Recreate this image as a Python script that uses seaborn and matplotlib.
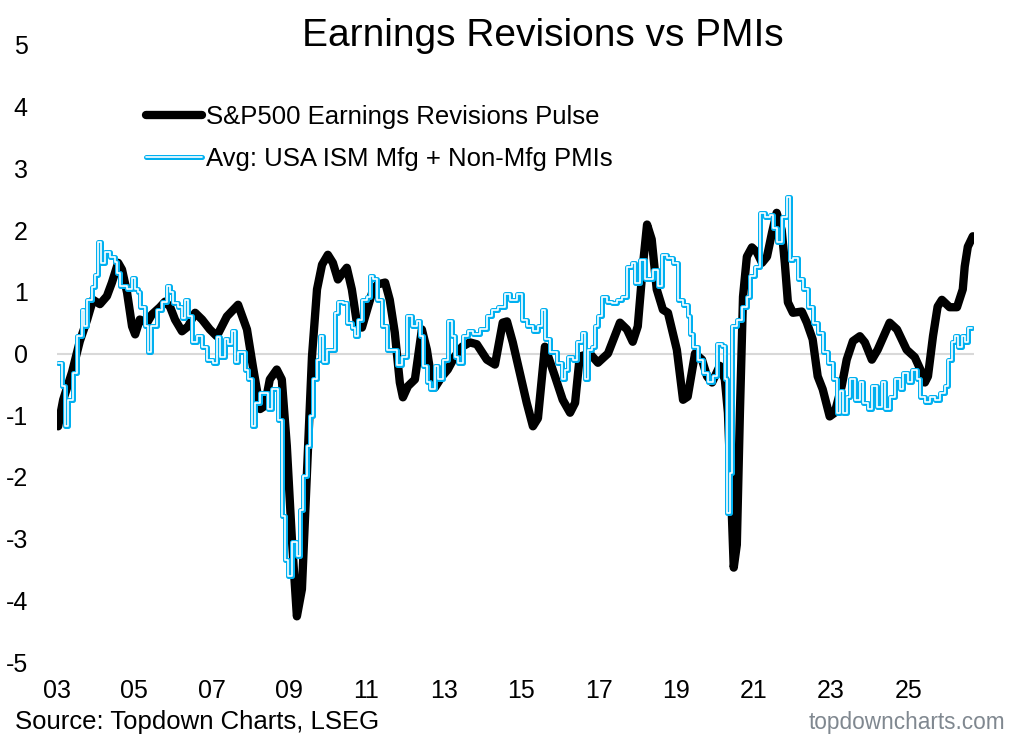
import matplotlib
matplotlib.use("Agg")
import matplotlib.pyplot as plt
from matplotlib.lines import Line2D
import seaborn as sns
import pandas as pd

# ---- data (decimal years) ----
eps_t = [2003.03, 2003.16, 2003.39, 2003.59, 2003.78, 2003.93, 2004.11, 2004.29, 2004.42, 2004.58,
         2004.68, 2004.81, 2004.94, 2005.02, 2005.14, 2005.33, 2005.45, 2005.66, 2005.79, 2005.92,
         2006.05, 2006.23, 2006.39, 2006.57, 2006.75, 2006.95, 2007.13, 2007.39, 2007.68, 2007.91,
         2008.06, 2008.25, 2008.37, 2008.50, 2008.68, 2008.81, 2008.94, 2009.07, 2009.20, 2009.33,
         2009.46, 2009.59, 2009.72, 2009.85, 2010.00, 2010.13, 2010.26, 2010.39, 2010.49, 2010.62,
         2010.75, 2010.88, 2011.04, 2011.17, 2011.29, 2011.48, 2011.60, 2011.73, 2011.86, 2011.94,
         2012.07, 2012.25, 2012.43, 2012.56, 2012.69, 2012.77, 2012.95, 2013.10, 2013.28, 2013.47,
         2013.67, 2013.85, 2014.11, 2014.32, 2014.52, 2014.63, 2014.78, 2014.96, 2015.14, 2015.30,
         2015.43, 2015.61, 2015.87, 2016.07, 2016.26, 2016.39, 2016.51, 2016.77, 2016.98, 2017.24,
         2017.55, 2017.73, 2017.88, 2018.01, 2018.14, 2018.25, 2018.37, 2018.50, 2018.66, 2018.79,
         2019.02, 2019.18, 2019.30, 2019.49, 2019.67, 2019.80, 2019.93, 2020.13, 2020.26, 2020.34,
         2020.44, 2020.49, 2020.57, 2020.65, 2020.73, 2020.83, 2020.96, 2021.09, 2021.22, 2021.35,
         2021.48, 2021.60, 2021.73, 2021.81, 2021.89, 2022.02, 2022.25, 2022.38, 2022.53, 2022.66,
         2022.79, 2022.97, 2023.10, 2023.28, 2023.41, 2023.57, 2023.75, 2023.88, 2024.06, 2024.21,
         2024.52, 2024.71, 2024.96, 2025.17, 2025.35, 2025.43, 2025.51, 2025.64, 2025.76, 2025.87,
         2026.07, 2026.26, 2026.41, 2026.46, 2026.54, 2026.67]
eps_v = [-1.18, -0.75, -0.30, 0.20, 0.55, 0.87, 0.80, 0.93, 1.15, 1.47,
         1.36, 0.99, 0.44, 0.31, 0.55, 0.50, 0.63, 0.75, 0.84, 0.76,
         0.55, 0.36, 0.44, 0.66, 0.55, 0.39, 0.28, 0.60, 0.79, 0.39,
         -0.20, -0.90, -0.85, -0.42, -0.26, -0.42, -1.50, -3.00, -4.26, -3.82,
         -1.93, -0.05, 1.04, 1.44, 1.60, 1.47, 1.20, 1.31, 1.39, 1.04,
         0.50, 0.42, 0.76, 1.04, 1.12, 1.15, 0.87, 0.34, -0.47, -0.71,
         -0.53, -0.42, 0.39, 0.06, -0.47, -0.55, -0.37, -0.26, -0.05, 0.11,
         0.18, 0.15, -0.10, -0.18, 0.50, 0.52, 0.18, -0.31, -0.80, -1.18,
         -1.05, 0.11, -0.37, -0.75, -0.96, -0.80, -0.05, 0.00, -0.15, 0.00,
         0.50, 0.39, 0.19, 0.44, 1.41, 2.09, 1.85, 1.04, 0.71, 0.66,
         0.06, -0.75, -0.70, 0.00, -0.10, -0.37, -0.47, -0.20, -0.42, -0.96,
         -2.58, -3.47, -3.10, -0.96, 0.92, 1.57, 1.72, 1.64, 1.47, 1.57,
         1.96, 2.28, 2.00, 1.47, 0.83, 0.66, 0.68, 0.50, 0.23, -0.37,
         -0.58, -1.02, -0.96, -0.53, -0.10, 0.20, 0.28, 0.18, -0.10, 0.06,
         0.50, 0.39, 0.06, -0.06, -0.31, -0.47, -0.37, 0.28, 0.76, 0.87,
         0.75, 0.75, 1.04, 1.41, 1.73, 1.90]

pmi_t = [2003.03, 2003.13, 2003.21, 2003.28, 2003.41, 2003.52, 2003.65, 2003.70, 2003.78, 2003.90,
         2003.98, 2004.06, 2004.14, 2004.24, 2004.37, 2004.50, 2004.55, 2004.63, 2004.81, 2004.94,
         2005.02, 2005.09, 2005.14, 2005.27, 2005.35, 2005.43, 2005.58, 2005.71, 2005.84, 2005.92,
         2006.00, 2006.13, 2006.23, 2006.31, 2006.39, 2006.49, 2006.62, 2006.75, 2006.88, 2007.03,
         2007.13, 2007.21, 2007.34, 2007.42, 2007.52, 2007.60, 2007.68, 2007.86, 2007.94, 2008.04,
         2008.12, 2008.25, 2008.45, 2008.56, 2008.71, 2008.81, 2008.89, 2008.97, 2009.07, 2009.20,
         2009.28, 2009.36, 2009.46, 2009.54, 2009.61, 2009.72, 2009.80, 2009.87, 2009.98, 2010.18,
         2010.26, 2010.39, 2010.49, 2010.62, 2010.70, 2010.78, 2010.88, 2011.01, 2011.09, 2011.17,
         2011.27, 2011.40, 2011.53, 2011.79, 2011.91, 2012.04, 2012.17, 2012.30, 2012.38, 2012.46,
         2012.56, 2012.64, 2012.77, 2012.84, 2012.97, 2013.10, 2013.21, 2013.28, 2013.36, 2013.49,
         2013.62, 2013.75, 2013.93, 2014.11, 2014.24, 2014.40, 2014.58, 2014.71, 2014.89, 2015.02,
         2015.14, 2015.30, 2015.43, 2015.53, 2015.61, 2015.74, 2015.92, 2016.05, 2016.13, 2016.20,
         2016.33, 2016.44, 2016.57, 2016.64, 2016.72, 2016.82, 2016.90, 2016.98, 2017.08, 2017.21,
         2017.34, 2017.47, 2017.60, 2017.73, 2017.86, 2017.94, 2018.07, 2018.20, 2018.32, 2018.40,
         2018.53, 2018.63, 2018.76, 2018.92, 2019.05, 2019.18, 2019.30, 2019.36, 2019.43, 2019.56,
         2019.69, 2019.82, 2019.95, 2020.05, 2020.18, 2020.26, 2020.31, 2020.39, 2020.44, 2020.57,
         2020.70, 2020.83, 2020.91, 2021.04, 2021.17, 2021.29, 2021.42, 2021.50, 2021.60, 2021.73,
         2021.86, 2021.94, 2022.02, 2022.15, 2022.28, 2022.41, 2022.53, 2022.66, 2022.79, 2022.92,
         2023.05, 2023.16, 2023.23, 2023.31, 2023.41, 2023.49, 2023.62, 2023.75, 2023.83, 2023.96,
         2024.06, 2024.19, 2024.32, 2024.40, 2024.52, 2024.65, 2024.78, 2024.86, 2024.99, 2025.09,
         2025.22, 2025.30, 2025.43, 2025.56, 2025.69, 2025.82, 2025.95, 2026.02, 2026.13, 2026.20,
         2026.28, 2026.38, 2026.46, 2026.54, 2026.64]
pmi_v = [-0.15, -0.53, -1.18, -0.75, -0.31, 0.28, 0.71, 0.45, 0.87, 1.07,
         1.28, 1.80, 1.47, 1.64, 1.57, 1.49, 1.31, 1.09, 1.04, 1.23,
         1.04, 0.99, 0.76, 0.44, 0.02, 0.44, 0.71, 0.84, 1.09, 0.99,
         0.82, 0.75, 0.58, 0.87, 0.60, 0.18, 0.28, 0.11, -0.10, -0.15,
         0.26, -0.06, 0.23, 0.15, 0.36, -0.13, 0.02, -0.26, -0.42, -1.18,
         -0.80, -0.64, -0.90, -0.58, -1.07, -2.64, -3.34, -3.61, -3.06, -3.29,
         -2.53, -1.99, -1.50, -1.02, -0.42, -0.10, 0.28, -0.13, 0.06, 0.66,
         0.84, 0.82, 0.50, 0.42, 0.28, 0.55, 0.87, 0.92, 1.25, 1.20,
         0.87, 0.44, 0.06, -0.18, -0.05, 0.60, 0.44, 0.52, 0.28, -0.21,
         -0.47, -0.58, -0.21, -0.42, -0.10, 0.52, 0.28, -0.05, -0.15, 0.28,
         0.36, 0.31, 0.39, 0.60, 0.71, 0.75, 0.96, 0.87, 0.96, 0.55,
         0.44, 0.36, 0.44, 0.71, 0.23, 0.02, -0.15, -0.42, -0.26, -0.05,
         -0.10, 0.18, 0.34, -0.42, 0.06, 0.11, 0.44, 0.60, 0.92, 0.84,
         0.82, 0.87, 0.92, 1.41, 1.47, 1.15, 1.52, 1.20, 1.20, 1.36,
         1.09, 1.60, 1.55, 1.47, 0.87, 0.79, 0.60, 0.31, 0.11, -0.10,
         -0.31, -0.47, -0.37, 0.15, 0.12, -0.42, -2.58, -1.93, 0.44, 0.55,
         0.76, 0.92, 1.25, 1.41, 2.28, 2.22, 2.25, 2.04, 1.80, 2.22,
         2.54, 1.52, 1.55, 1.20, 1.04, 0.76, 0.50, 0.34, 0.02, -0.15,
         -0.42, -0.96, -0.60, -0.96, -0.70, -0.42, -0.75, -0.47, -0.80, -0.90,
         -0.53, -0.86, -0.47, -0.90, -0.70, -0.42, -0.58, -0.31, -0.47, -0.26,
         -0.42, -0.70, -0.78, -0.70, -0.75, -0.64, -0.53, -0.10, 0.18, 0.28,
         0.11, 0.28, 0.18, 0.42, 0.42]

x_ticks = [2003, 2005, 2007, 2009, 2011, 2013, 2015, 2017, 2019, 2021, 2023, 2025]
x_labels = ["03", "05", "07", "09", "11", "13", "15", "17", "19", "21", "23", "25"]
y_ticks = [-5, -4, -3, -2, -1, 0, 1, 2, 3, 4, 5]

series1 = "S&P500 Earnings Revisions Pulse"
series2 = "Avg: USA ISM Mfg + Non-Mfg PMIs"

eps_df = pd.DataFrame({"t": eps_t, "v": eps_v})
pmi_df = pd.DataFrame({"t": pmi_t, "v": pmi_v})

# ---- style ----
sns.set_theme(style="white")
plt.rcParams["font.family"] = ["Liberation Sans", "DejaVu Sans"]

BLUE = "#00B0F0"

fig = plt.figure(figsize=(10.25, 7.45), dpi=100)
ax = fig.add_axes([57 / 1025, 83 / 745, 917 / 1025, 617 / 745])

ax.axhline(0, color="#D9D9D9", lw=1.5, zorder=1)

sns.lineplot(data=eps_df, x="t", y="v", ax=ax, color="black", lw=6.0,
             solid_joinstyle="round", solid_capstyle="round", legend=False, zorder=3)
sns.lineplot(data=pmi_df, x="t", y="v", ax=ax, color=BLUE, lw=3.6,
             drawstyle="steps-post", legend=False, zorder=4)
sns.lineplot(data=pmi_df, x="t", y="v", ax=ax, color="white", lw=1.2,
             drawstyle="steps-post", legend=False, zorder=5)

ax.set_xlim(2003.0, 2026.7)
ax.set_ylim(-5, 5)
ax.set_xticks(x_ticks)
ax.set_xticklabels(x_labels)
ax.set_yticks(y_ticks)
ax.set_yticklabels([str(v) for v in y_ticks])
ax.tick_params(axis="both", length=0, labelsize=18, colors="black")
ax.tick_params(axis="x", pad=12)
ax.tick_params(axis="y", pad=21)
for lab in ax.get_yticklabels():
    lab.set_horizontalalignment("right")
ax.set_xlabel("")
ax.set_ylabel("")
for s in ax.spines.values():
    s.set_visible(False)
ax.grid(False)

h1 = Line2D([], [], color="black", lw=6.0, solid_capstyle="round")
h2a = Line2D([], [], color=BLUE, lw=3.6)
h2b = Line2D([], [], color="white", lw=1.2)
leg = ax.legend([h1, (h2a, h2b)], [series1, series2], loc="upper left",
                bbox_to_anchor=(0.097, 0.902), frameon=False, fontsize=18.5,
                handlelength=2.2, handletextpad=0.12, labelspacing=0.68,
                borderaxespad=0, borderpad=0, labelcolor="black")

fig.text(543 / 1025, 1 - 36 / 745, "Earnings Revisions vs PMIs", ha="center",
         va="center", fontsize=28, color="black")
fig.text(15 / 1025, 1 - 722 / 745, "Source: Topdown Charts, LSEG", ha="left",
         va="center", fontsize=18.5, color="black")
fig.text(1005 / 1025, 1 - 722 / 745, "topdowncharts.com", ha="right",
         va="center", fontsize=16.3, color="#808890")

fig.savefig("out.png", dpi=100, facecolor="white")
